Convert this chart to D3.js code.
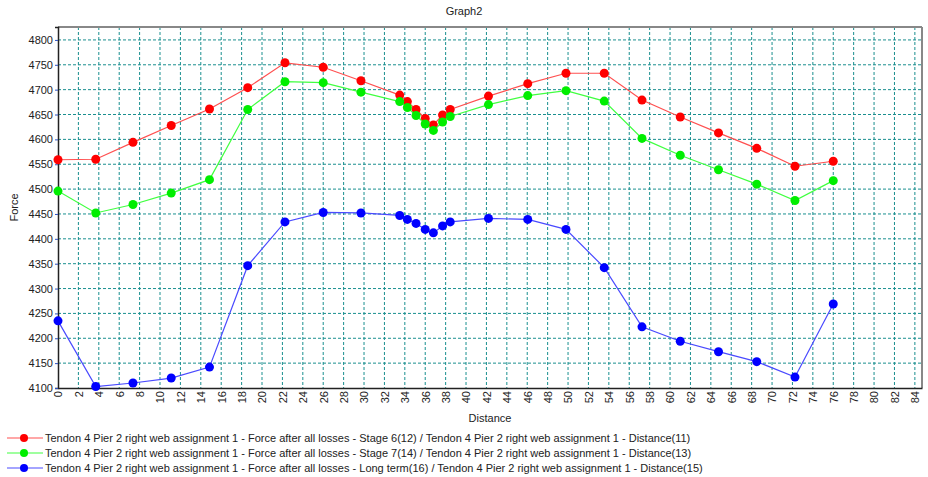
<!DOCTYPE html>
<html lang="en">
<head>
<meta charset="UTF-8">
<title>Graph2</title>
<style>
  body { margin: 0; background: #fff; }
  svg text { font-family: "Liberation Sans", Arial, sans-serif; font-size: 11px; fill: #222; }
</style>
</head>
<body>
<script src="https://cdn.jsdelivr.net/npm/d3@7"></script>
<script>
// Distances shared by all three series
const distance = [0, 3.7, 7.35, 11.1, 14.85, 18.6, 22.25, 26, 29.7, 33.5, 34.25, 35.1, 36, 36.8, 37.7, 38.45,
    42.2, 46.05, 49.8, 53.55, 57.25, 61, 64.75, 68.5, 72.25, 76];

// Force values per series
const stage6 = [4559, 4560, 4594, 4628, 4661, 4704, 4754, 4745, 4718, 4689, 4676, 4660, 4642, 4629, 4649, 4660,
    4687, 4712, 4733, 4733, 4679, 4645, 4613, 4582, 4546, 4556];
const stage7 = [4496, 4452, 4469, 4492, 4519, 4660, 4716, 4714, 4695, 4676, 4664, 4648, 4631, 4618, 4635, 4646,
    4670, 4688, 4698, 4677, 4602, 4568, 4539, 4510, 4477, 4517];
const longTerm = [4235, 4103, 4110, 4120, 4142, 4346, 4434, 4453, 4452, 4447, 4439, 4431, 4419, 4412, 4426, 4434,
    4441, 4439, 4419, 4342, 4223, 4194, 4173, 4153, 4122, 4269];

const seriesNames = [
    "Tendon 4 Pier 2 right web assignment 1 - Force after all losses - Stage 6(12) / Tendon 4 Pier 2 right web assignment 1 - Distance(11)",
    "Tendon 4 Pier 2 right web assignment 1 - Force after all losses - Stage 7(14) / Tendon 4 Pier 2 right web assignment 1 - Distance(13)",
    "Tendon 4 Pier 2 right web assignment 1 - Force after all losses - Long term(16) / Tendon 4 Pier 2 right web assignment 1 - Distance(15)"
];
const seriesColors = ["#ff0000", "#00ee00", "#0000ff"];
const lineColors = ["#ff5050", "#40ff40", "#4a4aff"];

const xTicks = d3.range(0, 85, 2);
const yTicks = d3.range(4100, 4801, 50);

const width = 928, height = 477,
    plot = {left: 58, right: 922, top: 27, bottom: 388};

const x = d3.scaleLinear().domain([0, 84.7]).range([plot.left, plot.right]);
const y = d3.scaleLinear().domain([4100, 4826]).range([plot.bottom, plot.top]);

const svg = d3.select("body").append("svg")
    .attr("width", width)
    .attr("height", height);

// grid
svg.append("g").selectAll("line")
    .data(xTicks.slice(1))
    .enter().append("line")
    .attr("x1", d => x(d)).attr("x2", d => x(d))
    .attr("y1", plot.top).attr("y2", plot.bottom)
    .attr("stroke", "#1a8f8f").attr("stroke-dasharray", "3,2");
svg.append("g").selectAll("line")
    .data(yTicks.slice(1))
    .enter().append("line")
    .attr("x1", plot.left).attr("x2", plot.right)
    .attr("y1", d => y(d)).attr("y2", d => y(d))
    .attr("stroke", "#1a8f8f").attr("stroke-dasharray", "3,2");

// frame: gray top/right, dark left/bottom
svg.append("line").attr("x1", plot.left).attr("x2", plot.right).attr("y1", plot.top).attr("y2", plot.top)
    .attr("stroke", "#888").attr("stroke-width", 2);
svg.append("line").attr("x1", plot.right).attr("x2", plot.right).attr("y1", plot.top).attr("y2", plot.bottom)
    .attr("stroke", "#888").attr("stroke-width", 2);

// y axis
const yAxis = svg.append("g")
    .attr("transform", `translate(${plot.left},0)`)
    .call(d3.axisLeft(y).tickValues(yTicks).tickFormat(d3.format("d")).tickSize(3).tickPadding(2));
yAxis.select(".domain").attr("stroke", "#222").attr("stroke-width", 1.5);
yAxis.selectAll(".tick line").attr("stroke", "#3050c0");
yAxis.selectAll("text").style("font-size", "11px").attr("fill", "#222");

// x axis with rotated labels
const xAxis = svg.append("g")
    .attr("transform", `translate(0,${plot.bottom})`)
    .call(d3.axisBottom(x).tickValues(xTicks).tickSize(0).tickPadding(0));
xAxis.select(".domain").attr("stroke", "#222").attr("stroke-width", 1.5);
xAxis.selectAll("text")
    .attr("transform", "rotate(-90)")
    .attr("text-anchor", "end")
    .attr("x", -3)
    .attr("y", 0)
    .attr("dy", "0.35em")
    .style("font-size", "11px")
    .attr("fill", "#222");

// series
const allSeries = [stage6, stage7, longTerm];
const line = d3.line().x(d => x(d[0])).y(d => y(d[1]));

allSeries.forEach(function(values, i) {
    const pts = distance.map((d, j) => [d, values[j]]);
    svg.append("path")
        .datum(pts)
        .attr("fill", "none")
        .attr("stroke", lineColors[i])
        .attr("stroke-width", 1.2)
        .attr("d", line);
    svg.append("g").selectAll("circle")
        .data(pts)
        .enter().append("circle")
        .attr("cx", d => x(d[0]))
        .attr("cy", d => y(d[1]))
        .attr("r", 4.5)
        .attr("fill", seriesColors[i]);
});

// titles
svg.append("text")
    .attr("x", 464).attr("y", 15)
    .attr("text-anchor", "middle")
    .text("Graph2");
svg.append("text")
    .attr("x", (plot.left + plot.right) / 2).attr("y", 422)
    .attr("text-anchor", "middle")
    .text("Distance");
svg.append("text")
    .attr("transform", `translate(18,${(plot.top + plot.bottom) / 2}) rotate(-90)`)
    .attr("text-anchor", "middle")
    .text("Force");

// legend
const legend = svg.append("g").selectAll("g")
    .data(seriesNames)
    .enter().append("g")
    .attr("transform", (d, i) => `translate(0,${438 + i * 15})`);
legend.append("line")
    .attr("x1", 7).attr("x2", 43)
    .attr("stroke", (d, i) => lineColors[i]).attr("stroke-width", 1.2);
legend.append("circle")
    .attr("cx", 24).attr("r", 4)
    .attr("fill", (d, i) => seriesColors[i]);
legend.append("text")
    .attr("x", 45).attr("dy", "0.35em")
    .text(d => d);
</script>
</body>
</html>
